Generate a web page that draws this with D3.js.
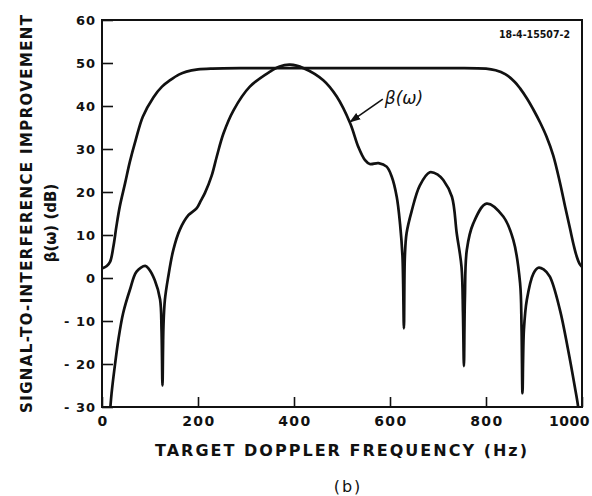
<!DOCTYPE html>
<html>
<head>
<meta charset="utf-8">
<script src="https://cdn.jsdelivr.net/npm/d3@7"></script>
<style>
  body { margin: 0; background: #fff; }
  text { font-family: "DejaVu Sans", sans-serif; font-weight: bold; fill: #111; }
</style>
</head>
<body>
<div id="chart"></div>
<script>
// optimum curve (upper envelope), [Hz, dB]
var optimum = [
  [0, 2.2], [10, 2.8], [17, 3.8], [24, 7.5], [30, 12], [37, 16.6], [48, 22], [58, 27],
  [70, 32], [85, 37.5], [107, 42], [125, 44.5], [142, 46], [160, 47.3], [176, 48],
  [200, 48.5], [230, 48.7], [300, 48.8], [500, 48.8], [700, 48.8], [800, 48.7],
  [820, 48.3], [840, 47.4], [860, 45.6], [871, 44.1], [885, 41.8], [900, 38.9],
  [913, 36.1], [926, 32.9], [940, 28.5], [954, 22.2], [965, 16.5], [975, 11.5], [983, 7.5],
  [989, 5], [995, 3.3], [1000, 2.6]
]

// beta(w) curve, [Hz, dB]
var beta = [
  [14, -35], [20, -26.8], [27, -20.2], [34, -14.4], [44, -8.2], [58, -2.8], [72, 1.5],
  [90, 2.8], [97, 2.2], [110, -0.5], [121, -5], [124, -12], [126, -25], [128, -11.3],
  [131, -5.1], [138, 0.3], [148.5, 6.5], [162, 11.2], [180, 14.6], [197, 16.2],
  [206, 18], [214.5, 19.8], [228.5, 23.8], [239, 28.2], [253, 33.6], [274, 39],
  [308, 44.5], [350, 48], [370, 49.2], [392, 49.6], [420, 48.8], [461, 46], [489, 42.2],
  [517, 36], [534, 30.5], [548, 27.4], [558, 26.5], [576, 26.7], [593, 25.9],
  [603.5, 23.6], [614, 18.9], [621, 12.5], [626, 5], [629, -11.7], [631, 5],
  [634.5, 10.4], [645, 15.5], [662, 21.5], [683, 24.6], [700, 24], [711, 22.8], [729, 18.9],
  [739, 10.4], [749, 2.6], [752, -8], [754, -20.5], [756, -5], [760, 6.5], [773.5, 12.7],
  [801, 17.3], [836, 14.3], [857, 8.8], [871, -1.2], [874, -11.3], [876, -26.8],
  [879, -12], [885, -5.1], [899, 1.1], [909, 2.4], [920, 2], [933, 0.3], [954, -7.4],
  [971, -16.7], [985, -25.3], [992, -30], [996, -35]
]

var xTicks = [0, 200, 400, 600, 800, 1000]
var yTicks = [60, 50, 40, 30, 20, 10, 0, -10, -20, -30]

var margin = { top: 20, right: 10, bottom: 89, left: 102 }
var width = 592 - margin.left - margin.right
var height = 496 - margin.top - margin.bottom

var svg = d3.select("#chart").append("svg")
  .attr("width", 592)
  .attr("height", 496)

var g = svg.append("g")
  .attr("transform", "translate(" + margin.left + "," + margin.top + ")")

var x = d3.scaleLinear().domain([0, 1000]).range([0, width])
var y = d3.scaleLinear().domain([-30, 60]).range([height, 0])

g.append("clipPath").attr("id", "clip")
  .append("rect").attr("width", width).attr("height", height)

// axes: inner ticks, labels drawn separately
g.append("g")
  .attr("transform", "translate(0," + height + ")")
  .call(d3.axisBottom(x).tickValues(xTicks).tickSize(-10).tickFormat(""))
g.append("g")
  .call(d3.axisLeft(y).tickValues(yTicks).tickSize(-11).tickFormat(""))
g.selectAll(".domain").remove()
g.selectAll(".tick line").attr("stroke", "#111").attr("stroke-width", 1.6)

// frame
g.append("rect")
  .attr("width", width).attr("height", height)
  .attr("fill", "none").attr("stroke", "#111").attr("stroke-width", 2)

// tick labels
g.selectAll(".xl").data(xTicks).enter().append("text")
  .attr("x", d => d == 1000 ? 488 : x(d) + 1)
  .attr("y", height + 19)
  .attr("text-anchor", d => d == 1000 ? "end" : "middle")
  .style("font-size", "14px")
  .style("letter-spacing", d => d == 1000 ? "0.5px" : "1.5px")
  .text(d => d)

g.selectAll(".yl").data(yTicks).enter().append("text")
  .attr("x", -6)
  .attr("y", d => y(d))
  .attr("dy", "0.36em")
  .attr("text-anchor", "end")
  .style("font-size", "13px")
  .style("letter-spacing", "1px")
  .text(d => d < 0 ? "- " + Math.abs(d) : d)

// curves
var line = d3.line()
  .x(d => x(d[0]))
  .y(d => y(d[1]))
  .curve(d3.curveCatmullRom.alpha(0.5))

var curves = g.append("g").attr("clip-path", "url(#clip)")
;[optimum, beta].forEach(function(c) {
  curves.append("path")
    .datum(c)
    .attr("fill", "none")
    .attr("stroke", "#111")
    .attr("stroke-width", 2.7)
    .attr("stroke-linejoin", "round")
    .attr("d", line)
})

// beta(w) label with arrow
var tail = [585, 41.6], head = [517, 36.3]
svg.append("defs").append("marker")
  .attr("id", "arr").attr("viewBox", "0 0 10 10")
  .attr("refX", 9).attr("refY", 5)
  .attr("markerWidth", 7).attr("markerHeight", 7)
  .attr("orient", "auto")
  .append("path").attr("d", "M0,1.5 L10,5 L0,8.5 Z").attr("fill", "#111")
g.append("line")
  .attr("x1", x(tail[0])).attr("y1", y(tail[1]))
  .attr("x2", x(head[0])).attr("y2", y(head[1]))
  .attr("stroke", "#111").attr("stroke-width", 1.6)
  .attr("marker-end", "url(#arr)")
g.append("text")
  .attr("x", x(tail[0]) + 2).attr("y", y(tail[1]) + 5)
  .style("font-size", "17px").style("font-style", "italic").style("font-weight", "normal")
  .text("β(ω)")

// figure number
svg.append("text")
  .attr("x", 499).attr("y", 38)
  .attr("textLength", 71).attr("lengthAdjust", "spacingAndGlyphs")
  .style("font-size", "10px")
  .text("18-4-15507-2")

// axis titles
svg.append("text")
  .attr("x", 341).attr("y", 456)
  .attr("text-anchor", "middle")
  .attr("textLength", 372).attr("lengthAdjust", "spacing")
  .style("font-size", "16px")
  .text("TARGET DOPPLER FREQUENCY (Hz)")

svg.append("text")
  .attr("transform", "translate(32,214) rotate(-90)")
  .attr("text-anchor", "middle")
  .attr("textLength", 398).attr("lengthAdjust", "spacing")
  .style("font-size", "15px")
  .text("SIGNAL-TO-INTERFERENCE IMPROVEMENT")

svg.append("text")
  .attr("transform", "translate(56,223) rotate(-90)")
  .attr("text-anchor", "middle")
  .style("font-size", "15px")
  .text("β(ω) (dB)")

svg.append("text")
  .attr("x", 348).attr("y", 492)
  .attr("text-anchor", "middle")
  .style("font-size", "16px")
  .style("font-weight", "normal")
  .style("letter-spacing", "2px")
  .text("(b)")
</script>
</body>
</html>
